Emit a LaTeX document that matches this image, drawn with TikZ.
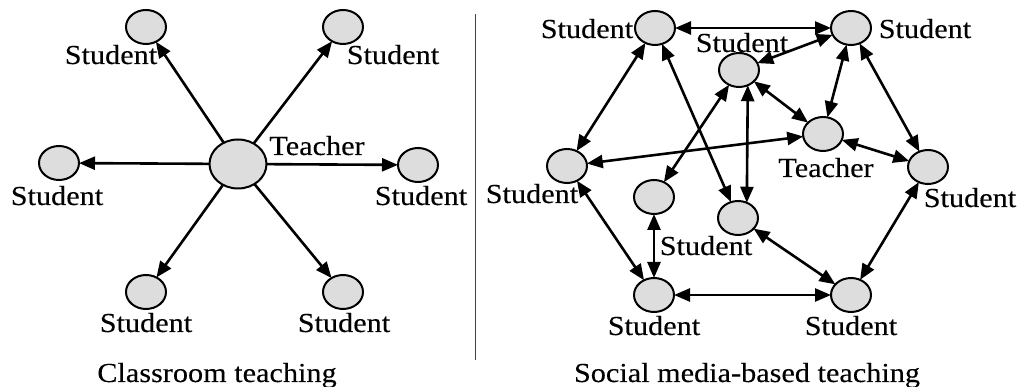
\documentclass[tikz,border=0pt]{standalone}
\usepackage{fontspec}
\setmainfont{Liberation Serif}[FakeStretch=1.1,FakeBold=0.2]
\usetikzlibrary{shapes.geometric,arrows.meta}
\definecolor{nodegray}{RGB}{221,221,221}
\tikzset{
  stu/.style={ellipse, draw, line width=2pt, fill=nodegray, minimum width=40pt, minimum height=34pt, inner sep=0pt, outer sep=0pt},
  teach/.style={stu, minimum width=57pt, minimum height=49pt},
  lbl/.style={anchor=base, inner sep=0pt, font=\fontsize{27.5}{32}\selectfont},
  arr/.style={line width=2.6pt, -{Triangle[length=16pt,width=13pt]}},
  darr/.style={line width=2.6pt, {Triangle[length=16pt,width=13pt]}-{Triangle[length=16pt,width=13pt]}},
}
\begin{document}
\begin{tikzpicture}[x=1pt,y=-1pt]
\useasboundingbox (0,0) rectangle (1021,387);
% ---------- left panel ----------
\node[teach] (T0) at (238,164) {};
\node[stu] (L1) at (146,27) {};
\node[stu] (L2) at (343,27) {};
\node[stu] (L3) at (59,163) {};
\node[stu] (L4) at (418,165) {};
\node[stu] (L5) at (146,292) {};
\node[stu] (L6) at (343,292) {};
\foreach \n in {L1,L2,L3,L4,L5,L6} \draw[arr] (T0) -- (\n);
\node[lbl] (tT0) at (317,155) {Teacher};
\node[lbl] (tL1) at (111,64) {Student};
\node[lbl] (tL2) at (393,64) {Student};
\node[lbl] (tL3) at (57,205) {Student};
\node[lbl] (tL4) at (421,205) {Student};
\node[lbl] (tL5) at (146,332) {Student};
\node[lbl] (tL6) at (344,332) {Student};
\node[lbl] (capL) at (217,382) {Classroom teaching};
% ---------- divider ----------
\coordinate (d1) at (475,14);
\coordinate (d2) at (475,360);
\draw[line width=1pt, black!75] (d1) -- (d2);
% ---------- right panel ----------
\node[stu] (S1) at (655,28) {};
\node[stu] (S2) at (851,28) {};
\node[stu] (S3) at (739,70) {};
\node[stu] (T)  at (823,134) {};
\node[stu] (S4) at (567,166) {};
\node[stu] (S5) at (928,167) {};
\node[stu] (S6) at (654,197) {};
\node[stu] (S7) at (738,218) {};
\node[stu] (S8) at (654,295) {};
\node[stu] (S9) at (851,295) {};
\draw[darr] (S1) -- (S2);
\draw[darr] (S1) -- (S4);
\draw[darr] (S1) -- (S7);
\draw[darr] (S2) -- (S3);
\draw[darr] (S2) -- (T);
\draw[darr] (S2) -- (S5);
\draw[darr] (S3) -- (T);
\draw[darr] (S3) -- (S6);
\draw[darr] (S3.300) -- (S7.60);
\draw[darr] (T) -- (S4);
\draw[darr] (T) -- (S5);
\draw[darr] (S4) -- (S8);
\draw[darr] (S6) -- (S8);
\draw[darr] (S7) -- (S9);
\draw[darr] (S8) -- (S9);
\draw[darr] (S5) -- (S9);
\node[lbl] (tS1) at (587,38) {Student};
\node[lbl] (tS2) at (925,38) {Student};
\node[lbl] (tS3) at (742,52) {Student};
\node[lbl] (tT)  at (826,177) {Teacher};
\node[lbl] (tS4) at (532,203) {Student};
\node[lbl] (tS5) at (970,207) {Student};
\node[lbl] (tS7) at (706,255) {Student};
\node[lbl] (tS8) at (654,335) {Student};
\node[lbl] (tS9) at (851,335) {Student};
\node[lbl] (capR) at (747,382) {Social media-based teaching};
\end{tikzpicture}
\end{document}
